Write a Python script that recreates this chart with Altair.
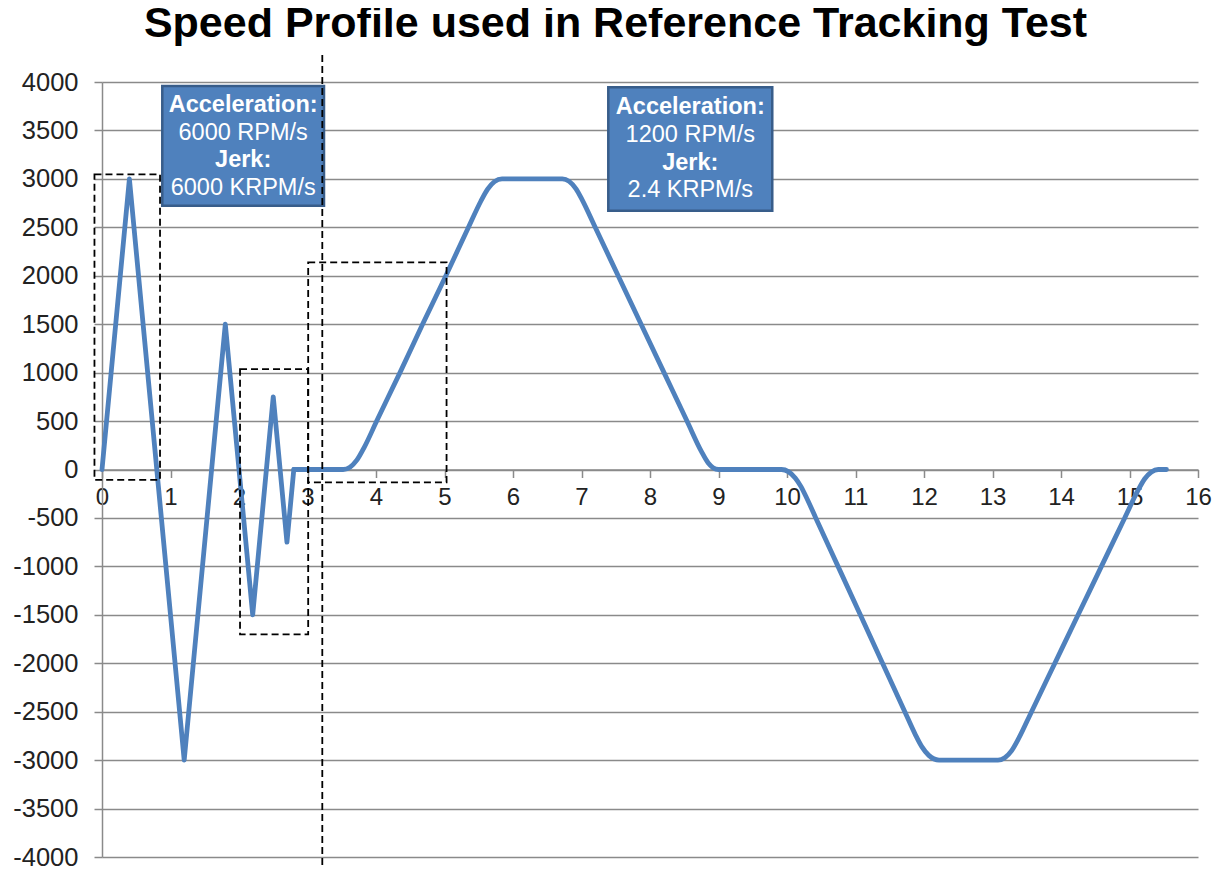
import altair as alt
import pandas as pd

# ---- speed profile (time in s, speed in RPM) ----
# fast part: straight ramps (6000 RPM/s profile)
fast_time_s = [0.0, 0.4, 1.2, 1.8, 2.2, 2.5, 2.7, 2.8]
fast_speed_rpm = [0, 3000, -3000, 1500, -1500, 750, -750, 0]

# slow part: jerk-limited S-curve (1200 RPM/s profile)
slow_time_s = [2.8, 3.52, 3.62, 3.72, 3.83, 4.01, 4.35, 4.68, 5.02, 5.35, 5.53,
               5.63, 5.73, 5.84, 6.72, 6.82, 6.92, 7.01, 7.20, 7.535, 7.87, 8.205,
               8.54, 8.75, 8.85, 8.92, 9.0, 9.92, 10.02, 10.12, 10.20, 10.27, 10.42,
               10.745, 11.07, 11.395, 11.72, 11.87, 11.97, 12.07, 12.22, 13.08, 13.18,
               13.28, 13.38, 13.57, 13.91, 14.25, 14.59, 14.93, 15.12, 15.22, 15.32,
               15.42, 15.54]
slow_speed_rpm = [0, 0, 24, 96, 231, 500, 1000, 1500, 2000, 2500, 2769,
                  2894, 2971, 3000, 3000, 2974, 2897, 2783, 2500, 2000, 1500, 1000,
                  500, 187, 67, 19, 0, 0, -22, -88, -172, -269, -500,
                  -1000, -1500, -2000, -2500, -2731, -2863, -2951, -3000, -3000, -2975,
                  -2902, -2779, -2500, -2000, -1500, -1000, -500, -221, -98, -25,
                  0, 0]

# ---- dashed highlight boxes ----
box_t0 = [-0.11, 2.015, 3.01]
box_t1 = [0.847, 3.01, 5.03]
box_v0 = [3047, 1037, 2139]
box_v1 = [-108, -1701, -132]

# ---- vertical dashed divider ----
divider_t = [3.216]
divider_top = [4279]
divider_bottom = [-4083]

# ---- annotation boxes ----
note_t0 = [0.88, 7.391]
note_t1 = [3.241, 9.785]
note_v0 = [3959, 3945]
note_v1 = [2723, 2672]

note_text = ["Acceleration:", "6000 RPM/s", "Jerk:", "6000 KRPM/s",
             "Acceleration:", "1200 RPM/s", "Jerk:", "2.4 KRPM/s"]
note_text_t = [2.061] * 4 + [8.588] * 4
note_text_v = [3762, 3477, 3195, 2909, 3745, 3453, 3160, 2885]
note_text_bold = [True, False, True, False, True, False, True, False]

# ---- chart title (placed above the plot area) ----
title_text = ["Speed Profile used in Reference Tracking Test"]
title_t = [7.496]
title_v = [4461]

y_ticks = list(range(-4000, 4001, 500))
x_ticks = list(range(0, 17))

FONT = "Liberation Sans"
BLUE = "#4F81BD"
GRID = "#8a8a8a"

fast_df = pd.DataFrame({"t": fast_time_s, "v": fast_speed_rpm})
slow_df = pd.DataFrame({"t": slow_time_s, "v": slow_speed_rpm})
box_df = pd.DataFrame({"t0": box_t0, "t1": box_t1, "v0": box_v0, "v1": box_v1})
div_df = pd.DataFrame({"t": divider_t, "top": divider_top, "bottom": divider_bottom})
note_df = pd.DataFrame({"t0": note_t0, "t1": note_t1, "v0": note_v0, "v1": note_v1})
text_df = pd.DataFrame({"t": note_text_t, "v": note_text_v, "text": note_text,
                        "bold": note_text_bold})
title_df = pd.DataFrame({"t": title_t, "v": title_v, "text": title_text})

xs = alt.Scale(domain=[0, 16], nice=False, zero=False)
ys = alt.Scale(domain=[-4000, 4000], nice=False, zero=False)

neg_label = "datum.value < 0 ? '-' + abs(datum.value) : '' + datum.value"

x_axis = alt.Axis(
    values=x_ticks, labelExpr=neg_label, offset=-387.5, grid=False, title=None,
    domainColor=GRID, domainWidth=1.5, tickColor=GRID, tickWidth=1.5, tickSize=8,
    labelFont=FONT, labelFontSize=24, labelColor="#222222", labelPadding=8,
    labelFlush=False, labelOverlap=False, zindex=0)
y_axis = alt.Axis(
    values=y_ticks, labelExpr=neg_label, grid=True, gridColor=GRID, gridWidth=1.5,
    title=None, domainColor=GRID, domainWidth=1.5, tickColor=GRID, tickWidth=1.5,
    tickSize=8, labelFont=FONT, labelFontSize=25.5, labelColor="#222222",
    labelPadding=16, labelOverlap=False, labelFlush=False, zindex=0)

fast_line = alt.Chart(fast_df).mark_line(
    color=BLUE, strokeWidth=4.8, strokeJoin="round", strokeCap="round"
).encode(
    x=alt.X("t:Q", scale=xs, axis=x_axis),
    y=alt.Y("v:Q", scale=ys, axis=y_axis),
)

slow_line = alt.Chart(slow_df).mark_line(
    color=BLUE, strokeWidth=4.8, strokeJoin="round", strokeCap="round",
    interpolate="monotone"
).encode(
    x=alt.X("t:Q", scale=xs, axis=x_axis),
    y=alt.Y("v:Q", scale=ys, axis=y_axis),
)

boxes = alt.Chart(box_df).mark_rect(
    fillOpacity=0, stroke="black", strokeDash=[7, 4], strokeWidth=1.8
).encode(
    x=alt.X("t0:Q", scale=xs, axis=x_axis), x2="t1:Q",
    y=alt.Y("v0:Q", scale=ys, axis=y_axis), y2="v1:Q",
)

notes = alt.Chart(note_df).mark_rect(
    fill=BLUE, stroke="#385D8A", strokeWidth=2.5
).encode(
    x=alt.X("t0:Q", scale=xs, axis=x_axis), x2="t1:Q",
    y=alt.Y("v0:Q", scale=ys, axis=y_axis), y2="v1:Q",
)

bold_text = alt.Chart(text_df).transform_filter("datum.bold").mark_text(
    color="white", font=FONT, fontSize=23.5, fontWeight="bold",
    align="center", baseline="middle"
).encode(
    x=alt.X("t:Q", scale=xs, axis=x_axis),
    y=alt.Y("v:Q", scale=ys, axis=y_axis),
    text="text:N",
)

plain_text = alt.Chart(text_df).transform_filter("!datum.bold").mark_text(
    color="white", font=FONT, fontSize=23.5, fontWeight="normal",
    align="center", baseline="middle"
).encode(
    x=alt.X("t:Q", scale=xs, axis=x_axis),
    y=alt.Y("v:Q", scale=ys, axis=y_axis),
    text="text:N",
)

divider = alt.Chart(div_df).mark_rule(
    color="black", strokeDash=[7, 4], strokeWidth=1.8
).encode(
    x=alt.X("t:Q", scale=xs, axis=x_axis),
    y=alt.Y("top:Q", scale=ys, axis=y_axis), y2="bottom:Q",
)

title_mark = alt.Chart(title_df).mark_text(
    color="black", font=FONT, fontSize=43, fontWeight="bold",
    align="center", baseline="alphabetic"
).encode(
    x=alt.X("t:Q", scale=xs, axis=x_axis),
    y=alt.Y("v:Q", scale=ys, axis=y_axis),
    text="text:N",
)

chart = alt.layer(
    fast_line, slow_line, boxes, notes, bold_text, plain_text, divider, title_mark
).resolve_axis(
    x="shared", y="shared"
).properties(
    width=1096, height=775,
    padding={"left": 94, "top": 74, "right": 14, "bottom": 14},
    autosize=alt.AutoSizeParams(type="none"),
    background="white",
).configure_view(strokeWidth=0)

chart.save("out.html", embed_options={"renderer": "svg", "actions": False})
